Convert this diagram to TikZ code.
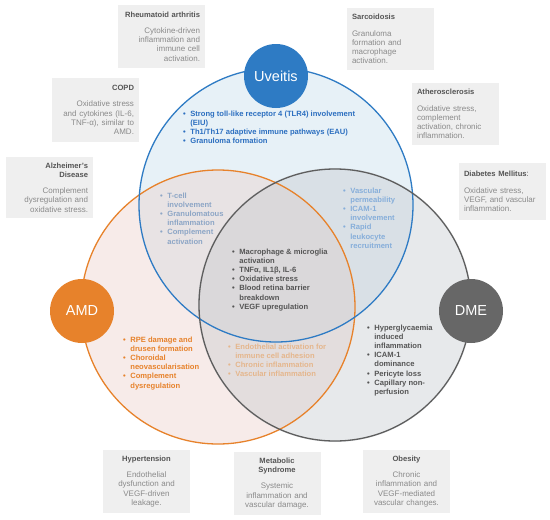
\documentclass[tikz,border=0pt]{standalone}
\usepackage{fontspec}
\setmainfont{Liberation Sans}
\definecolor{uvblue}{HTML}{2E7BC4}
\definecolor{uvfill}{HTML}{C5DCED}
\definecolor{uvtext}{HTML}{2C6FC0}
\definecolor{amdorange}{HTML}{E7822B}
\definecolor{amdfill}{HTML}{EBCFC8}
\definecolor{dmegrey}{HTML}{5E5E5E}
\definecolor{dmetag}{HTML}{676767}
\definecolor{dmefill}{HTML}{C5C8CD}
\definecolor{uvamdtext}{HTML}{8DA6C6}
\definecolor{uvdmetext}{HTML}{86AEDA}
\definecolor{amddmetext}{HTML}{E5B68C}
\definecolor{coretext}{HTML}{555555}
\definecolor{boxgrey}{HTML}{EFEFEF}
\definecolor{boxhead}{HTML}{555555}
\definecolor{boxbody}{HTML}{8A8A8A}
\tikzset{
  tag/.style={circle, minimum size=64pt, inner sep=0pt, text=white,
    font=\fontsize{14.5}{16}\selectfont},
  infobox/.style={fill=boxgrey, inner xsep=5pt, inner ysep=0pt, text width=77pt,
    font=\fontsize{8}{9.2}\selectfont, text=boxbody},
  pts/.style={anchor=north west, inner sep=0pt, font=\fontsize{7.6}{9.2}\selectfont\bfseries},
}
\newcommand{\ttl}[1]{{\color{boxhead}\fontsize{7.6}{9.2}\selectfont\bfseries #1}}
\newcommand{\blist}[1]{\begin{tabular}{@{}l@{\hspace{4.5pt}}l@{}}#1\end{tabular}}
\begin{document}
\begin{tikzpicture}[x=1pt,y=-1pt]
  \fill[white] (0,0) rectangle (550,520);
  \useasboundingbox (0,0) rectangle (550,520);

  % Venn circles
  \coordinate (uvc) at (276,205);
  \coordinate (amdc) at (218,307);
  \coordinate (dmec) at (335,305);
  \foreach \c/\col in {uvc/uvfill, amdc/amdfill, dmec/dmefill}
    \fill[\col, opacity=.4] (\c) circle (137pt);
  \draw[amdorange, line width=1.3pt] (amdc) circle (137pt);
  \draw[uvblue, line width=1.3pt] (uvc) circle (137pt);
  \draw[dmegrey, line width=1.3pt] (dmec) circle (136pt);

  % Disease tags
  \node[tag, fill=uvblue] (uv) at (276,76) {Uveitis};
  \node[tag, fill=amdorange] (amd) at (82,311) {AMD};
  \node[tag, fill=dmetag] (dme) at (471,311) {DME};

  % Region texts
  \node[pts, text=uvtext] (uvonly) at (183,109.5) {\blist{%
    \textbullet & Strong toll-like receptor 4 (TLR4) involvement\\
    & (EIU)\\
    \textbullet & Th1/Th17 adaptive immune pathways (EAU)\\
    \textbullet & Granuloma formation}};
  \node[pts, text=uvamdtext] (uvamd) at (160,191.5) {\blist{%
    \textbullet & T-cell\\ & involvement\\
    \textbullet & Granulomatous\\ & inflammation\\
    \textbullet & Complement\\ & activation}};
  \node[pts, text=uvdmetext] (uvdme) at (343,186.5) {\blist{%
    \textbullet & Vascular\\ & permeability\\
    \textbullet & ICAM-1\\ & involvement\\
    \textbullet & Rapid\\ & leukocyte\\ & recruitment}};
  \node[pts, text=coretext] (core) at (232,247.5) {\blist{%
    \textbullet & Macrophage \& microglia\\ & activation\\
    \textbullet & TNFα, IL1β, IL-6\\
    \textbullet & Oxidative stress\\
    \textbullet & Blood retina barrier\\ & breakdown\\
    \textbullet & VEGF upregulation}};
  \node[pts, text=amdorange] (amdonly) at (123,335.5) {\blist{%
    \textbullet & RPE damage and\\ & drusen formation\\
    \textbullet & Choroidal\\ & neovascularisation\\
    \textbullet & Complement\\ & dysregulation}};
  \node[pts, text=amddmetext] (amddme) at (228,342.5) {\blist{%
    \textbullet & Endothelial activation for\\ & immune cell adhesion\\
    \textbullet & Chronic inflammation\\
    \textbullet & Vascular inflammation}};
  \node[pts, text=coretext] (dmeonly) at (367,323.5) {\blist{%
    \textbullet & Hyperglycaemia\\ & induced\\ & inflammation\\
    \textbullet & ICAM-1\\ & dominance\\
    \textbullet & Pericyte loss\\
    \textbullet & Capillary non-\\ & perfusion}};

  % Comorbidity boxes
  \node[infobox, align=right, minimum height=63pt] (ra) at (161.5,36.5)
    {\ttl{Rheumatoid arthritis}\\[7pt] Cytokine-driven\\ inflammation and\\ immune cell\\ activation.};
  \node[infobox, align=left, minimum height=62pt] (sarc) at (390.5,39)
    {\ttl{Sarcoidosis}\\[7pt] Granuloma\\ formation and\\ macrophage\\ activation.};
  \node[infobox, align=right, minimum height=64pt] (copd) at (95.5,110)
    {\ttl{COPD}\\[7pt] Oxidative stress\\ and cytokines (IL-6,\\ TNF-α), similar to\\ AMD.};
  \node[infobox, align=right, minimum height=61pt] (alz) at (49.5,187.5)
    {\ttl{Alzheimer’s}\\ \ttl{Disease}\\[7pt] Complement\\ dysregulation and\\ oxidative stress.};
  \node[infobox, align=left, minimum height=62pt] (athero) at (455.5,114)
    {\ttl{Atherosclerosis}\\[7pt] Oxidative stress,\\ complement\\ activation, chronic\\ inflammation.};
  \node[infobox, align=left, minimum height=57pt] (dm) at (502.5,191.5)
    {\ttl{Diabetes Mellitus}{\color{boxhead}:}\\[7pt] Oxidative stress,\\ VEGF, and vascular\\ inflammation.};
  \node[infobox, align=center, minimum height=63pt] (hyper) at (146.5,481.5)
    {\ttl{Hypertension}\\[7pt] Endothelial\\ dysfunction and\\ VEGF-driven\\ leakage.};
  \node[infobox, align=center, minimum height=63pt] (metab) at (277,483.5)
    {\ttl{Metabolic}\\ \ttl{Syndrome}\\[7pt] Systemic\\ inflammation and\\ vascular damage.};
  \node[infobox, align=center, minimum height=63pt] (obes) at (406.5,481.5)
    {\ttl{Obesity}\\[7pt] Chronic\\ inflammation and\\ VEGF-mediated\\ vascular changes.};
\end{tikzpicture}
\end{document}
